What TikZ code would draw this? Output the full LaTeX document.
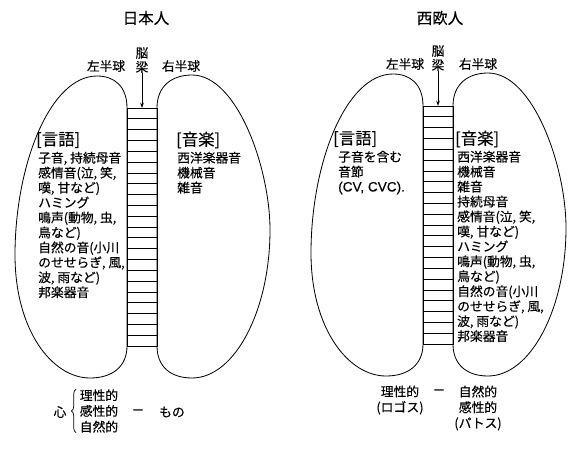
\documentclass[tikz,border=0pt]{standalone}
\usepackage{fontspec}
\setmainfont{Noto Sans CJK JP}[FakeBold=0.35]
\newfontfamily\latinfont{Liberation Sans}[FakeBold=0.35]
\usepackage{tikz}
\usetikzlibrary{arrows.meta,decorations.pathreplacing}

\begin{document}
\begin{tikzpicture}[x=0.03cm, y=-0.03cm, >={Stealth[length=4.5pt,width=3pt]},
  ttl/.style={font=\fontsize{13.2}{15}\selectfont, inner sep=0pt},
  lbl/.style={font=\fontsize{10.8}{12}\selectfont, inner sep=0pt, align=center},
  hdr/.style={font=\fontsize{14}{16}\selectfont, inner sep=0pt, anchor=west},
  txt/.style={font=\fontsize{10.9}{12.76}\selectfont, inner sep=0pt, align=left, anchor=north west},
  btm/.style={font=\fontsize{10.9}{13.4}\selectfont, inner sep=0pt, align=center}]

  \useasboundingbox (0,0) rectangle (581,449);

  % hemispheres and corpus callosum (same outline twice)
  \foreach \dx/\dy in {0/0, 296/-2} {
    \begin{scope}[shift={(\dx,\dy)}, line width=0.7pt]
      \draw (127,108) .. controls (127,86) and (114,76) .. (97,76)
        .. controls (50,76) and (15,165) .. (15,255)
        .. controls (15,330) and (52,378) .. (90,378)
        .. controls (113,378) and (127,366) .. (127,346) -- cycle;
      \draw (157,108) .. controls (157,86) and (172,75) .. (192,75)
        .. controls (237,75) and (270,168) .. (270,230)
        .. controls (270,310) and (235,378) .. (192,378)
        .. controls (170,378) and (157,366) .. (157,346) -- cycle;
      \draw (127,108) rectangle (157,346);
      \foreach \k in {1,...,21}
        \draw (127,108+\k*10.82) -- (157,108+\k*10.82);
    \end{scope}
  }

  % Japanese
  \node[ttl] (jptitle) at (146,18) {日本人};
  \node[lbl] (jplh) at (106,66) {左半球};
  \node[lbl] (jprh) at (181,66) {右半球};
  \node[lbl] (jpcl) at (142,60) {脳\\梁};
  \coordinate (jpcc) at (142,108);
  \draw[->, line width=0.7pt] (jpcl) -- (jpcc);

  \node[hdr] (jplhd) at (36,140) {[言語]};
  \node[txt] (jpltx) at (38,151.6) {子音, 持続母音\\感情音(泣, 笑,\\嘆, 甘など)\\ハミング\\鳴声(動物, 虫,\\鳥など)\\自然の音(小川\\のせせらぎ, 風,\\波, 雨など)\\邦楽器音};
  \node[hdr] (jprhd) at (176,140) {[音楽]};
  \node[txt] (jprtx) at (177,151.6) {西洋楽器音\\機械音\\雑音};

  \node[btm] (jpheart) at (60,412) {心};
  \node[btm, align=left] (jpmind) at (99,411) {理性的\\感性的\\自然的};
  \draw[decorate, decoration={brace, amplitude=4pt}, line width=0.6pt]
    ([xshift=-3pt]jpmind.south west) -- ([xshift=-3pt]jpmind.north west);
  \node[btm] (jpdash) at (138,412) {－};
  \node[btm] (jpthing) at (172,412) {もの};

  % Western
  \node[ttl] (wtitle) at (440,18) {西欧人};
  \node[lbl] (wlh) at (405,64) {左半球};
  \node[lbl] (wrh) at (478,64) {右半球};
  \node[lbl] (wcl) at (438,58) {脳\\梁};
  \coordinate (wcc) at (438,106);
  \draw[->, line width=0.7pt] (wcl) -- (wcc);

  \node[hdr] (wlhd) at (333,139) {[言語]};
  \node[txt] (wltx) at (338,150.6) {子音を含む\\音節\\{\latinfont\fontsize{11.6}{12.76}\selectfont (CV, CVC).}};
  \node[hdr] (wrhd) at (455,139) {[音楽]};
  \node[txt] (wrtx) at (457,150.6) {西洋楽器音\\機械音\\雑音\\持続母音\\感情音(泣, 笑,\\嘆, 甘など)\\ハミング\\鳴声(動物, 虫,\\鳥など)\\自然の音(小川\\のせせらぎ, 風,\\波, 雨など)\\邦楽器音};

  \node[btm] (wlogos) at (400,400) {理性的\\(ロゴス)};
  \node[btm] (wdash) at (439,392) {－};
  \node[btm] (wpathos) at (478,408) {自然的\\感性的\\(パトス)};
\end{tikzpicture}
\end{document}
